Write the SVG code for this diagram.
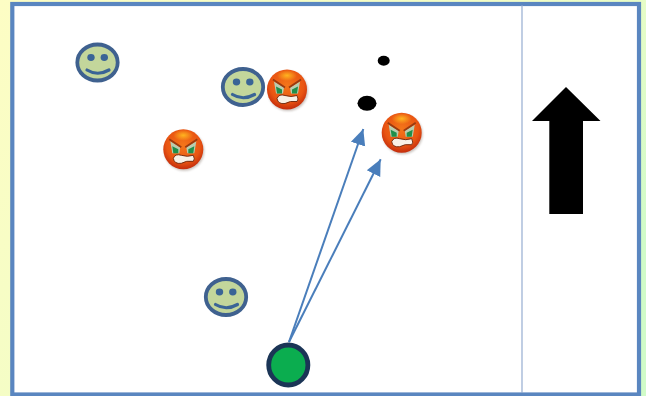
<svg xmlns="http://www.w3.org/2000/svg" width="646" height="396" viewBox="0 0 646 396">
<style>
.conn{fill:none;stroke:#4a7ebb;stroke-width:2}
.smile{fill:#c3d69b;stroke:#3f618f;stroke-width:3.800}
.eye{fill:#3a6496}
.mouth{fill:none;stroke:#3a6496;stroke-width:3.200;stroke-linecap:round}
</style>
<defs>
<linearGradient id="bg" x1="0" y1="0" x2="1" y2="0.600">
<stop offset="0" stop-color="#fdfdc4"/>
<stop offset="0.6" stop-color="#f2fdc6"/>
<stop offset="1" stop-color="#d0fbc8"/>
</linearGradient>
<radialGradient id="ang" cx="0.5" cy="0.4" r="0.6">
<stop offset="0" stop-color="#f4761a"/>
<stop offset="0.7" stop-color="#e95512"/>
<stop offset="1" stop-color="#c42c0c"/>
</radialGradient>
<radialGradient id="hl" cx="0.5" cy="0.5" r="0.5">
<stop offset="0" stop-color="#ffb41f"/>
<stop offset="1" stop-color="#ffb41f" stop-opacity="0"/>
</radialGradient>
<filter id="sh" x="-20%" y="-20%" width="140%" height="140%"><feGaussianBlur stdDeviation="1.200"/></filter>
<marker id="ah" markerUnits="userSpaceOnUse" markerWidth="18" markerHeight="18" refX="16" refY="9" orient="auto">
<path d="M0 1.500L16 9L0 16.500Z" fill="#4a7ebb"/>
</marker>
<g id="smileface">
<ellipse class="smile" rx="20.200" ry="18"/>
<ellipse class="eye" cx="-6.500" cy="-5" rx="3.700" ry="3.400"/>
<ellipse class="eye" cx="6.800" cy="-5" rx="3.700" ry="3.400"/>
<path class="mouth" d="M-10.500 7.500Q0 14 11.500 7.500"/>
</g>
<g id="angryface">
<circle cx="1" cy="1.500" r="20" fill="#8a7a70" opacity="0.45" filter="url(#sh)"/>
<circle r="20" fill="url(#ang)"/>
<ellipse cy="-14" rx="10" ry="5.500" fill="url(#hl)"/>
<path d="M-13 -8L-3 -2L-4 4L-11 4Z" fill="#b9cdb0"/>
<path d="M13 -8L3 -2L4 4L11 4Z" fill="#b9cdb0"/>
<path d="M-11 -3L-5 0L-5 4L-10 4Z" fill="#1f8f4a"/>
<path d="M11 -3L5 0L5 4L10 4Z" fill="#1f8f4a"/>
<path d="M-14 -10L-2 -2M14 -10L2 -2" stroke="#9a3a10" stroke-width="1.800" fill="none"/>
<path d="M-10 9Q-8 4 -2 6Q4 8 10 6Q12 10 10 12Q3 11 -2 14Q-9 15 -10 9Z" fill="#f8f0e6" stroke="#6b2208" stroke-width="0.900"/>
</g>
</defs>
<rect id="background" width="646" height="396" fill="url(#bg)"/>
<g id="frame">
<rect x="12.300" y="4" width="626.700" height="390.500" fill="#fff" stroke="#5a86c0" stroke-width="4.200"/>
<line x1="522" y1="5" x2="522" y2="393" stroke="#8ba5cc" stroke-width="1.100"/>
</g>
<g id="connectors">
<line class="conn" x1="289" y1="342" x2="363.300" y2="129" marker-end="url(#ah)"/>
<line class="conn" x1="289" y1="342" x2="380.700" y2="159.300" marker-end="url(#ah)"/>
</g>
<g id="smile-1"><use href="#smileface" x="97.500" y="62.500"/></g>
<g id="smile-2"><use href="#smileface" x="243" y="87"/></g>
<g id="smile-3"><use href="#smileface" x="226" y="297"/></g>
<g id="angry-1"><use href="#angryface" x="183.300" y="149.300"/></g>
<g id="angry-2"><use href="#angryface" x="287" y="89.500"/></g>
<g id="angry-3"><use href="#angryface" x="401.700" y="132.700"/></g>
<g id="dot-small"><ellipse cx="383.700" cy="60.700" rx="6" ry="5"/></g>
<g id="dot-large"><ellipse cx="367" cy="103.300" rx="9.500" ry="7.500"/></g>
<g id="player"><ellipse cx="288.300" cy="365" rx="19.600" ry="20" fill="#0bad4f" stroke="#1b3556" stroke-width="4.800"/></g>
<g id="big-arrow"><path d="M566 87L600.500 121H583V214H549.300V121H532Z" fill="#000"/></g>
</svg>
